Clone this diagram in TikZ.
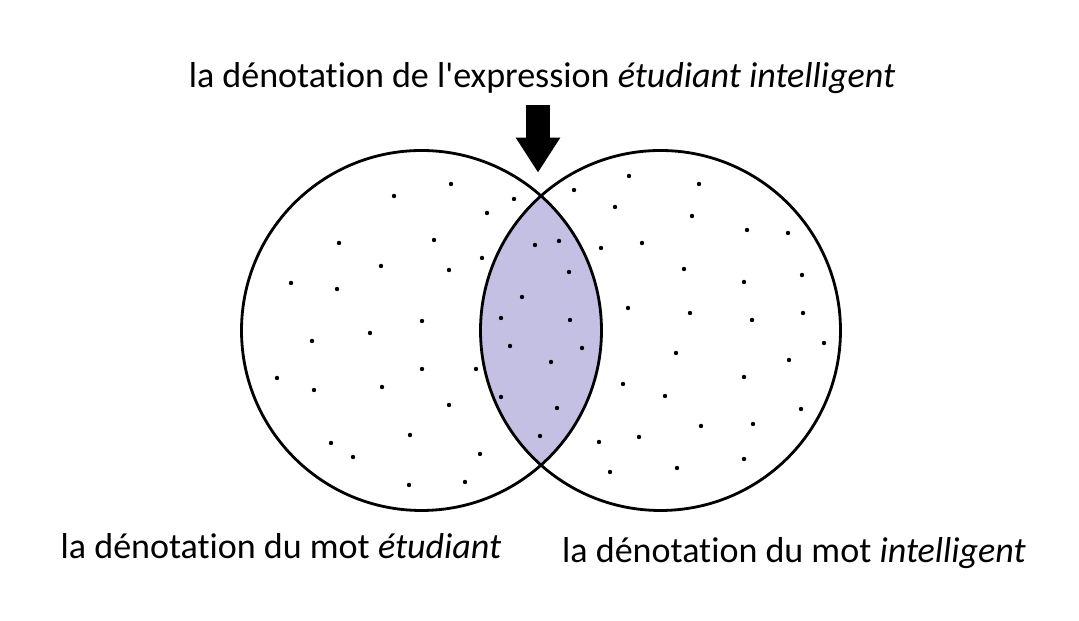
\documentclass[tikz,border=0pt]{standalone}
\usepackage{fontspec}
\setmainfont{Carlito}[Ligatures=NoCommon]
\usetikzlibrary{arrows.meta}
\definecolor{lens}{RGB}{196,192,228}
\tikzset{
    setline/.style={line width=0.8pt},
    setname/.style={anchor=base, inner sep=0pt, font=\fontsize{10.25}{12}\selectfont},
    bigarrow/.style={line width=0.24cm, -{Triangle[width=0.42cm,length=0.35cm]}}
}
\begin{document}
\begin{tikzpicture}
    \useasboundingbox (0,0) rectangle (10.79,6.21);

    % Centres
    \coordinate (etu) at (4.215,2.905);
    \coordinate (int) at (6.605,2.905);

    % Intersection
    \begin{scope}
        \clip (etu) circle (1.8);
        \fill[lens] (int) circle (1.8);
    \end{scope}

    % Dots
    \foreach \x/\y in {4.51/4.37, 3.94/4.25, 5.14/4.22, 4.87/4.08, 3.39/3.78,
        4.34/3.81, 5.35/3.76, 5.59/3.80, 4.82/3.63, 3.81/3.55, 4.49/3.51,
        5.69/3.49, 2.91/3.38, 3.37/3.32, 5.22/3.24, 5.01/3.03, 5.70/3.01,
        4.22/3.00, 3.70/2.88, 3.12/2.80, 5.10/2.75, 5.82/2.73, 5.51/2.59,
        4.22/2.52, 4.76/2.52, 2.77/2.43, 3.14/2.31, 3.82/2.34, 6.23/2.37,
        4.49/2.16, 5.01/2.24, 5.57/2.13, 3.31/1.78, 4.10/1.86, 5.40/1.85,
        5.99/1.79, 3.53/1.64, 4.80/1.67, 6.10/1.49, 4.09/1.36, 4.65/1.39,
        6.29/4.45, 5.74/4.31, 6.15/4.14, 6.01/3.73, 6.28/3.13, 6.99/4.37,
        6.92/4.05, 7.47/3.91, 7.88/3.88, 6.42/3.78, 6.84/3.52, 8.02/3.46,
        7.44/3.39, 6.90/3.08, 8.03/3.08, 7.52/3.01, 8.24/2.78, 6.76/2.68,
        7.89/2.61, 7.44/2.44, 6.65/2.25, 8.01/2.12, 7.01/1.95, 7.53/1.97,
        6.39/1.84, 7.44/1.62, 6.77/1.53}
        \fill (\x,\y) circle (0.022);

    % Sets
    \draw[setline] (etu) circle (1.8);
    \draw[setline] (int) circle (1.8);

    % Labels
    \node[setname] (expr) at (5.42,5.337) {la dénotation de l\textquotesingle expression \emph{étudiant intelligent}};
    \node[setname] (motetu) at (2.81,0.62) {la dénotation du mot \emph{étudiant}};
    \node[setname] (motint) at (7.94,0.58) {la dénotation du mot \emph{intelligent}};

    % Arrow
    \coordinate (shaft) at (5.38,5.157);
    \coordinate (meet) at (5.38,4.483);
    \draw[bigarrow] (shaft) -- (meet);
\end{tikzpicture}
\end{document}
